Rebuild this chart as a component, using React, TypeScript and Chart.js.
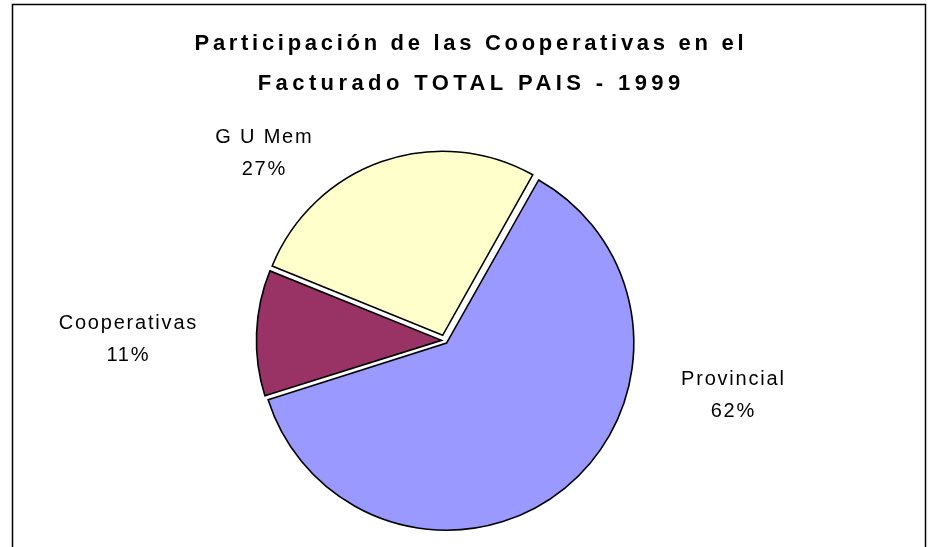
import React, { useEffect, useRef } from "react";
import { Chart, registerables } from "chart.js";

Chart.register(...registerables);

// ---- data ----
const categories = ["Provincial", "Cooperativas", "G U Mem"];
const shares = [62, 11, 27];
const percentLabels = ["62%", "11%", "27%"];
const titleLines = ["Participación de las Cooperativas en el", "Facturado TOTAL PAIS - 1999"];

// ---- styles / layout ----
const sliceColors = ["#9999FF", "#993366", "#FFFFCC"];
const sliceOffsets = [13, 12, 22];
const titleSpacing = [3.7, 4.4];
const titleBaselines = [50, 90];
// label first-line baseline relative to pie centre
const labelOffsets: [number, number][] = [
  [288, 44],
  [-317, -12],
  [-181, -198],
];

const framePlugin = {
  id: "frame",
  beforeDraw(chart: any) {
    const ctx = chart.ctx;
    ctx.save();
    ctx.fillStyle = "#ffffff";
    ctx.fillRect(0, 0, chart.width, chart.height);
    ctx.strokeStyle = "#000000";
    ctx.lineWidth = 1.5;
    ctx.beginPath();
    ctx.moveTo(12.5, chart.height + 5);
    ctx.lineTo(12.5, 4.5);
    ctx.lineTo(925.5, 4.5);
    ctx.lineTo(925.5, chart.height + 5);
    ctx.stroke();
    ctx.restore();
  },
};

const titlePlugin = {
  id: "customTitle",
  afterDraw(chart: any) {
    const ctx = chart.ctx;
    ctx.save();
    ctx.font = "bold 22px 'Liberation Sans', Arial, sans-serif";
    ctx.fillStyle = "#000000";
    ctx.textAlign = "center";
    ctx.textBaseline = "alphabetic";
    titleLines.forEach((line, i) => {
      (ctx as any).letterSpacing = titleSpacing[i] + "px";
      ctx.fillText(line, 469 + titleSpacing[i] / 2, titleBaselines[i]);
    });
    ctx.restore();
  },
};

const labelPlugin = {
  id: "sliceLabels",
  afterDatasetsDraw(chart: any) {
    const ctx = chart.ctx;
    const meta = chart.getDatasetMeta(0);
    ctx.save();
    ctx.font = "20px 'Liberation Sans', Arial, sans-serif";
    (ctx as any).letterSpacing = "1.8px";
    ctx.fillStyle = "#000000";
    ctx.textAlign = "center";
    ctx.textBaseline = "alphabetic";
    meta.data.forEach((arc: any, i: number) => {
      const [dx, dy] = labelOffsets[i];
      const x = arc.x + dx + 0.9;
      const y = arc.y + dy;
      ctx.fillText(categories[i], x, y);
      ctx.fillText(percentLabels[i], x, y + 32.5);
    });
    ctx.restore();
  },
};

export default function App() {
  const canvasRef = useRef<HTMLCanvasElement | null>(null);

  useEffect(() => {
    const canvas = canvasRef.current;
    if (!canvas) return;
    const chart = new Chart(canvas, {
      type: "pie",
      data: {
        labels: categories,
        datasets: [
          {
            data: shares,
            backgroundColor: sliceColors,
            borderColor: "#000000",
            borderWidth: 1.6,
            borderJoinStyle: "miter" as any,
            offset: sliceOffsets,
            radius: 184,
          } as any,
        ],
      },
      options: {
        responsive: false,
        animation: false,
        devicePixelRatio: 1,
        rotation: 29.3,
        layout: { padding: { left: 0, right: 43, top: 134, bottom: 0 } },
        plugins: {
          legend: { display: false },
          tooltip: { enabled: false },
          title: { display: false },
        },
      } as any,
      plugins: [framePlugin, titlePlugin, labelPlugin],
    });
    return () => chart.destroy();
  }, []);

  return (
    <div style={{ position: "fixed", left: 0, top: 0, width: 932, height: 547, background: "#fff" }}>
      <canvas ref={canvasRef} width={932} height={547} style={{ display: "block" }} />
    </div>
  );
}
